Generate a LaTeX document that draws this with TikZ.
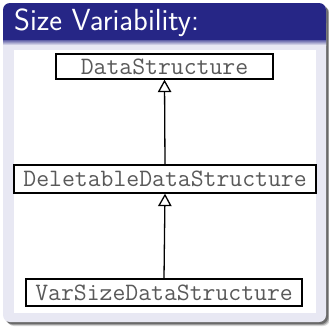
\documentclass[tikz,border=0pt]{standalone}
\usepackage{fontspec}
\usetikzlibrary{arrows.meta}
\definecolor{blocktitle}{RGB}{38,38,134}
\definecolor{blockbody}{RGB}{232,232,243}
\begin{document}
\begin{tikzpicture}[x=1pt,y=-1pt,
  classbox/.style={draw=black, line width=1.3pt, fill=white, text=black!65,
    font=\ttfamily\fontsize{25}{25}\selectfont, inner xsep=5pt, inner ysep=0pt},
  inherit/.style={-{Triangle[open,length=12.5pt,width=13.5pt,line width=1.3pt]}, line width=1.3pt}]
  \useasboundingbox (0,0) rectangle (329,327);
  % soft drop shadow of the block
  \foreach \o/\op in {4/0.15,3/0.25,2/0.35}
    \fill[black,opacity=\op,rounded corners=7pt] (3+\o,3+\o) rectangle (326+\o,322+\o);
  % block body and title bar
  \fill[blockbody,rounded corners=7pt] (3,3) rectangle (326,322);
  \fill[blocktitle,rounded corners=7pt] (3,3) rectangle (326,30);
  \fill[blocktitle] (3,20) rectangle (326,40);
  \shade[top color=blocktitle!70!blockbody, bottom color=blockbody] (3,40) rectangle (326,45);
  \node[anchor=base west, text=white, font=\sffamily\fontsize{30.5}{30.5}\selectfont, inner sep=0pt]
    (title) at (14,30) {Size Variability:};
  % white canvas of the class diagram
  \fill[white] (14,50) rectangle (316,313);
  % classes
  \node[classbox, minimum width=217pt, minimum height=25pt] (ds) at (164.5,66.5) {DataStructure};
  \node[classbox, minimum width=302pt, minimum height=28pt] (del) at (165,179) {DeletableDataStructure};
  \node[classbox, minimum width=276pt, minimum height=27pt] (var) at (164,292.5) {VarSizeDataStructure};
  % generalisation arrows
  \draw[inherit] (del.north) -- (ds.south);
  \draw[inherit] (var.north) -- (del.south);
\end{tikzpicture}
\end{document}
